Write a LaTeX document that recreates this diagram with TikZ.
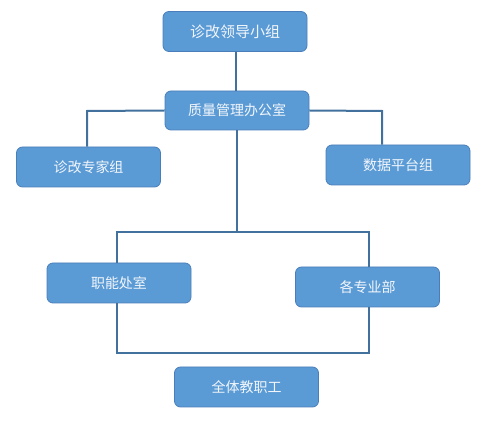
\documentclass[tikz,border=0pt]{standalone}
\usepackage{fontspec}
\newfontfamily\cjk{Noto Sans CJK SC}
\definecolor{boxfill}{HTML}{5B9BD5}
\definecolor{boxedge}{HTML}{4A7EBB}
\definecolor{linkblue}{HTML}{41719C}
\definecolor{txt}{HTML}{F2F6FC}
\begin{document}
\begin{tikzpicture}[x=1pt,y=-1pt,
  orgbox/.style={draw=boxedge, line width=0.8pt, fill=boxfill, rounded corners=6pt,
    minimum width=144pt, minimum height=40pt, inner sep=0pt,
    text=txt, font=\cjk\fontsize{14}{16}\selectfont},
  link/.style={draw=linkblue, line width=2pt}]
\useasboundingbox (0,0) rectangle (499,422);
\coordinate (c3) at (87,111);
\coordinate (c4) at (382,111);
\coordinate (mid) at (237,232);
\coordinate (tl) at (117,232);
\coordinate (tr) at (369,232);
\coordinate (bl) at (117,353);
\coordinate (br) at (369,353);
\node[orgbox, font=\cjk\fontsize{15}{17}\selectfont] (lead) at (235,31.5) {诊改领导小组};
\node[orgbox, minimum height=39pt] (qual) at (237,110.5) {质量管理办公室};
\node[orgbox] (expert) at (88.5,167) {诊改专家组};
\node[orgbox] (data) at (398,165) {数据平台组};
\node[orgbox] (func) at (119,283) {职能处室};
\node[orgbox] (dept) at (367.5,287) {各专业部};
\node[orgbox] (staff) at (246.5,387) {全体教职工};
\draw[link] (lead.south -| 236,0) -- (qual.north -| 236,0);
\draw[link] (qual.west) -- (c3) -- (c3 |- expert.north);
\draw[link] (qual.east) -- (c4) -- (c4 |- data.north);
\draw[link] (qual.south -| mid) -- (mid);
\draw[link, line join=miter] (tl |- func.north) -- (tl) -- (tr) -- (tr |- dept.north);
\draw[link, line join=miter] (bl |- func.south) -- (bl) -- (br) -- (br |- dept.south);
\end{tikzpicture}
\end{document}
